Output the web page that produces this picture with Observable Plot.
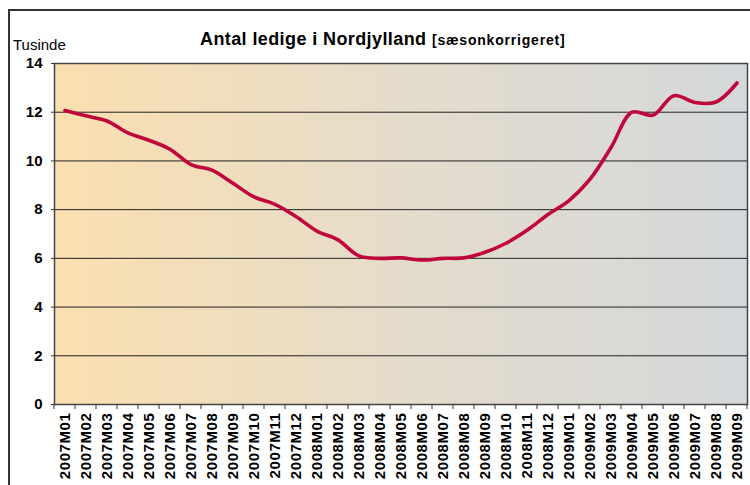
<!DOCTYPE html>
<html>
<head>
<meta charset="utf-8">
<script src="https://cdn.jsdelivr.net/npm/d3@7"></script>
<script src="https://cdn.jsdelivr.net/npm/@observablehq/plot@0.6"></script>
<style>
  html, body { margin: 0; padding: 0; background: #ffffff; }
  #chart { position: relative; width: 750px; height: 485px; overflow: hidden; }
</style>
</head>
<body>
<div id="chart"></div>
<script>
// ---- data ----
const months = [
  "2007M01","2007M02","2007M03","2007M04","2007M05","2007M06","2007M07","2007M08","2007M09","2007M10","2007M11","2007M12",
  "2008M01","2008M02","2008M03","2008M04","2008M05","2008M06","2008M07","2008M08","2008M09","2008M10","2008M11","2008M12",
  "2009M01","2009M02","2009M03","2009M04","2009M05","2009M06","2009M07","2009M08","2009M09"
];
const values = [
  12.07, 11.85, 11.64, 11.15, 10.85, 10.48, 9.85, 9.62, 9.08, 8.52, 8.22, 7.72,
  7.12, 6.76, 6.10, 6.00, 6.02, 5.93, 6.00, 6.02, 6.25, 6.62, 7.15, 7.80,
  8.37, 9.25, 10.55, 12.00, 11.88, 12.68, 12.40, 12.42, 13.20
];
const yTicks = [0, 2, 4, 6, 8, 10, 12, 14];
const titleMain = "Antal ledige i Nordjylland";
const titleSub = "[sæsonkorrigeret]";
const yUnit = "Tusinde";

const data = months.map((m, i) => ({month: m, value: values[i]}));

// ---- custom marks ----
function backgroundGradient(index, scales, vals, dims) {
  const g = d3.create("svg:g");
  const grad = g.append("defs").append("linearGradient")
    .attr("id", "bgGrad").attr("x1", "0").attr("x2", "1").attr("y1", "0").attr("y2", "0");
  grad.append("stop").attr("offset", "0%").attr("stop-color", "#fbdfb0");
  grad.append("stop").attr("offset", "50%").attr("stop-color", "#e5dccb");
  grad.append("stop").attr("offset", "100%").attr("stop-color", "#d4d8db");
  g.append("rect")
    .attr("x", dims.marginLeft).attr("y", dims.marginTop)
    .attr("width", dims.width - dims.marginLeft - dims.marginRight)
    .attr("height", dims.height - dims.marginTop - dims.marginBottom)
    .attr("fill", "url(#bgGrad)");
  return g.node();
}

function bandEdgeTicks(index, scales, vals, dims) {
  const g = d3.create("svg:g");
  const x = scales.x;
  const bw = x.bandwidth();
  const y0 = dims.height - dims.marginBottom;
  const edges = months.map(m => x(m)).concat([x(months[months.length - 1]) + bw]);
  g.selectAll("line").data(edges).join("line")
    .attr("x1", d => d).attr("x2", d => d)
    .attr("y1", y0).attr("y2", y0 + 5)
    .attr("stroke", "#333").attr("stroke-width", 1);
  return g.node();
}

const chart = Plot.plot({
  width: 750,
  height: 485,
  marginLeft: 54,
  marginRight: 3,
  marginTop: 63,
  marginBottom: 81,
  style: {fontFamily: "'Liberation Sans', Arial, sans-serif", background: "transparent", color: "#000"},
  x: {type: "band", domain: months, padding: 0, axis: null},
  y: {domain: [0, 14], axis: null},
  marks: [
    backgroundGradient,
    Plot.ruleY(yTicks.filter(d => d > 0 && d < 14), {stroke: "#222", strokeWidth: 1}),
    Plot.frame({stroke: "#444", strokeWidth: 1.5}),
    Plot.axisY({ticks: yTicks, tickSize: 3, tickPadding: 9, tickFormat: d => String(d),
                fontSize: 15, fontWeight: "bold", label: null, stroke: "#333"}),
    Plot.axisX({tickSize: 0, tickPadding: 8, tickRotate: -90, fontSize: 15, fontWeight: "bold", label: null}),
    bandEdgeTicks,
    Plot.line(data, {x: "month", y: "value", stroke: "#c0073c", strokeWidth: 3.6, curve: "catmull-rom"})
  ]
});

const svg = d3.select(chart);
// letter spacing for x labels (Excel-like wide text)
svg.selectAll("[aria-label='x-axis tick label'] text").attr("letter-spacing", "0.6px");

// outer chart border
svg.append("rect")
  .attr("x", 9).attr("y", 10).attr("width", 800).attr("height", 600)
  .attr("fill", "none").attr("stroke", "#333").attr("stroke-width", 2);

// title
const t = svg.append("text")
  .attr("x", 200).attr("y", 45)
  .attr("text-anchor", "start")
  .attr("font-family", "'Liberation Sans', Arial, sans-serif")
  .attr("font-weight", "bold").attr("fill", "#000");
t.append("tspan").attr("font-size", 18).attr("letter-spacing", "0.4px").text(titleMain);
t.append("tspan").attr("x", 432).attr("font-size", 14).attr("letter-spacing", "0.8px").text(titleSub);

// unit label
svg.append("text")
  .attr("x", 13).attr("y", 50)
  .attr("text-anchor", "start")
  .attr("font-family", "'Liberation Sans', Arial, sans-serif")
  .attr("font-size", 15).attr("fill", "#000")
  .text(yUnit);

document.getElementById("chart").appendChild(chart);
</script>
</body>
</html>
